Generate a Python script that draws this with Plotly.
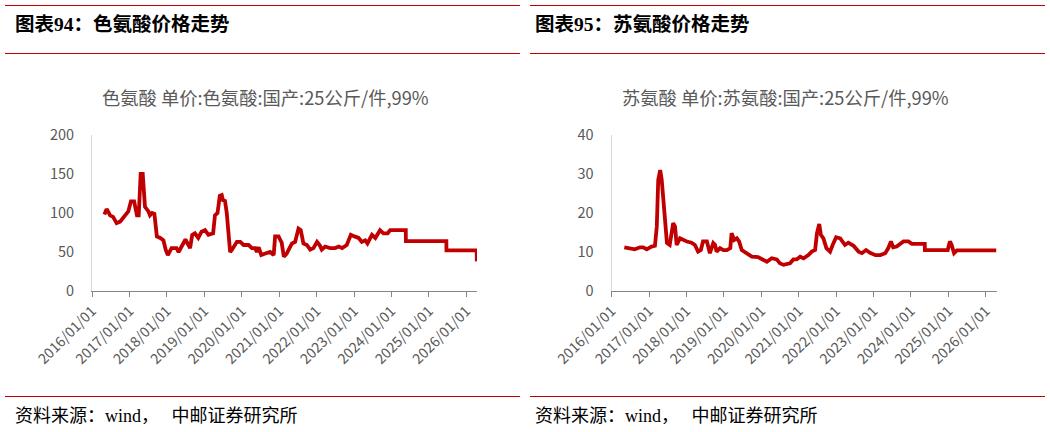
import plotly.graph_objects as go

# ---- data ----
trp_dates = ["2016-05-01","2016-05-22","2016-06-10","2016-06-25","2016-07-25","2016-08-28","2016-10-01",
    "2016-11-15","2016-12-20","2017-01-15","2017-02-15","2017-03-15","2017-04-01","2017-04-20","2017-05-10",
    "2017-06-01","2017-07-05","2017-07-20","2017-08-10","2017-09-01","2017-09-25","2017-10-28","2017-11-28",
    "2017-12-20","2018-01-10","2018-02-15","2018-04-05","2018-04-25","2018-05-25","2018-07-01","2018-08-15",
    "2018-09-05","2018-10-01","2018-11-03","2018-12-05","2019-01-08","2019-02-10","2019-03-28","2019-04-15",
    "2019-05-10","2019-06-01","2019-06-20","2019-07-05","2019-07-20","2019-08-08","2019-09-10","2019-09-28",
    "2019-11-15","2019-12-18","2020-01-20","2020-03-08","2020-04-10","2020-05-12","2020-05-27","2020-06-15",
    "2020-07-10","2020-08-18","2020-10-05","2020-11-08","2020-11-22","2020-12-25","2021-01-25","2021-02-15",
    "2021-03-15","2021-05-05","2021-06-05","2021-07-08","2021-07-30","2021-08-25","2021-09-28","2021-10-30",
    "2021-12-01","2022-01-05","2022-01-30","2022-02-20","2022-03-25","2022-05-12","2022-07-01","2022-08-05",
    "2022-09-07","2022-10-22","2022-12-01","2023-01-05","2023-02-15","2023-03-18","2023-04-20","2023-05-12",
    "2023-06-25","2023-07-28","2023-09-12","2023-10-15","2023-11-25","2023-12-20","2024-05-20","2024-05-21",
    "2025-06-20","2025-06-21","2026-04-12","2026-04-13"]
trp_values = [98,105,101,97,95,87,89,97,102,115,115,97,97,150,150,108,102,97,100,99,70,68,65,53,46,55,55,50,
    57,66,55,72,74,68,76,78,72,74,97,100,122,123,115,117,100,50,53,63,63,59,59,55,55,50,56,46,48,50,46,70,70,
    62,44,48,61,63,80,78,61,59,53,55,63,59,53,57,55,55,57,55,59,72,70,68,63,65,61,72,68,78,74,74,78,78,64,
    64,52,52,38]

thr_dates = ["2016-05-05","2016-06-15","2016-08-15","2016-10-05","2016-11-05","2016-12-10","2017-01-25",
    "2017-02-28","2017-03-18","2017-04-01","2017-04-20","2017-05-05","2017-05-30","2017-06-25","2017-07-22",
    "2017-08-25","2017-09-12","2017-09-28","2017-10-30","2017-12-01","2018-01-05","2018-02-20","2018-03-25",
    "2018-04-25","2018-05-22","2018-06-12","2018-07-20","2018-08-18","2018-09-20","2018-10-08","2018-10-22",
    "2018-11-25","2018-12-28","2019-01-30","2019-03-05","2019-03-18","2019-04-12","2019-05-08","2019-05-30",
    "2019-06-25","2019-08-10","2019-10-01","2019-12-01","2020-01-15","2020-02-25","2020-04-12","2020-06-01",
    "2020-07-01","2020-08-05","2020-10-08","2020-11-10","2020-12-12","2021-01-15","2021-02-18","2021-04-05",
    "2021-05-08","2021-06-10","2021-06-28","2021-07-20","2021-08-05","2021-08-30","2021-09-28","2021-11-03",
    "2021-11-28","2022-01-01","2022-02-10","2022-03-28","2022-04-30","2022-06-20","2022-08-08","2022-09-10",
    "2022-10-20","2022-11-28","2023-01-20","2023-03-08","2023-04-25","2023-05-25","2023-06-20","2023-07-12",
    "2023-08-15","2023-09-15","2023-10-20","2023-12-08","2024-01-10","2024-05-15","2024-05-16","2024-12-25",
    "2025-01-15","2025-02-01","2025-02-25","2025-03-25","2026-04-14"]
thr_values = [11.2,11.0,10.7,11.2,11.2,10.7,11.4,11.6,16.5,28.5,31.0,28.5,20.8,12.3,11.8,17.4,16.5,11.8,13.5,
    13.1,12.7,12.4,11.8,10.1,10.5,12.7,12.7,9.7,12.3,11.8,10.1,11.0,10.5,10.5,11.0,14.8,13.1,13.5,12.7,10.5,
    9.8,8.8,8.7,8.0,7.5,8.4,8.1,7.1,6.7,7.1,8.1,8.1,8.8,8.4,9.2,10.1,10.5,14.8,17.2,14.4,13.5,11.0,10.1,11.8,
    13.8,13.5,11.8,12.4,11.6,10.1,9.7,10.5,9.8,9.2,9.2,9.7,11.0,12.7,11.2,11.4,12.1,12.7,12.7,12.1,12.1,10.5,
    10.5,12.7,11.8,9.7,10.4,10.4]

headers = ["图表94：色氨酸价格走势", "图表95：苏氨酸价格走势"]
chart_titles = ["色氨酸 单价:色氨酸:国产:25公斤/件,99%", "苏氨酸 单价:苏氨酸:国产:25公斤/件,99%"]
source_text = "资料来源：wind，\u2002\u2009中邮证券研究所"

W, H = 1050, 432
RED = "#C00000"
GREY = "#595959"
CJK = "Noto Sans CJK SC"
SERIF = "Liberation Serif, Noto Sans CJK SC"

fig = go.Figure()
fig.add_trace(go.Scatter(x=trp_dates, y=trp_values, mode="lines", xaxis="x", yaxis="y",
                         line=dict(color=RED, width=3.8), showlegend=False))
fig.add_trace(go.Scatter(x=thr_dates, y=thr_values, mode="lines", xaxis="x2", yaxis="y2",
                         line=dict(color=RED, width=3.8), showlegend=False))

def px(x): return x / W
def py(y): return 1 - y / H

xcommon = dict(type="date", range=["2016-01-01", "2026-04-15"], tick0="2016-01-01", dtick="M12",
               tickformat="%Y/%m/%d", tickangle=-45, showline=True, linecolor="#868686", linewidth=1.3,
               ticks="outside", ticklen=5, tickwidth=1.3, tickcolor="#868686", showgrid=False,
               zeroline=False, automargin=False, tickfont=dict(family=CJK, size=14.3, color=GREY))
ycommon = dict(showline=True, linecolor="#D9D9D9", linewidth=1, ticks="", showgrid=False, zeroline=False,
               automargin=False, tickfont=dict(family=CJK, size=14.5, color=GREY), ticklabelstandoff=14)

fig.update_layout(
    width=W, height=H, margin=dict(l=0, r=0, t=0, b=0, autoexpand=False),
    paper_bgcolor="white", plot_bgcolor="white",
    xaxis=dict(domain=[px(92), px(477)], anchor="y", **xcommon),
    yaxis=dict(domain=[py(291), py(135)], anchor="x", range=[0, 200], dtick=50, **ycommon),
    xaxis2=dict(domain=[px(611.5), px(996.5)], anchor="y2", **xcommon),
    yaxis2=dict(domain=[py(291), py(135)], anchor="x2", range=[0, 40], dtick=10, **ycommon),
)

shapes = []
for (x0, x1) in [(5, 520), (530, 1045)]:
    for yy in [5.5, 53.5, 396.5]:
        shapes.append(dict(type="line", xref="paper", yref="paper", x0=px(x0), x1=px(x1), y0=py(yy), y1=py(yy),
                           line=dict(color=RED, width=1)))
fig.update_layout(shapes=shapes)

ann = []
for i, xs in enumerate([13, 533]):
    ann.append(dict(text="<b>" + headers[i] + "</b>", x=px(xs), y=py(25), xref="paper", yref="paper",
                    xanchor="left", yanchor="middle", showarrow=False,
                    font=dict(family=SERIF, size=19.5, color="black")))
    ann.append(dict(text=source_text, x=px(xs), y=py(416), xref="paper", yref="paper",
                    xanchor="left", yanchor="middle", showarrow=False,
                    font=dict(family=SERIF, size=18, color="black")))
for i, xc in enumerate([265, 785]):
    ann.append(dict(text=chart_titles[i], x=px(xc), y=py(97), xref="paper", yref="paper",
                    xanchor="center", yanchor="middle", showarrow=False,
                    font=dict(family=CJK, size=18.3, color=GREY)))
fig.update_layout(annotations=ann)

fig.write_html("out.html")
